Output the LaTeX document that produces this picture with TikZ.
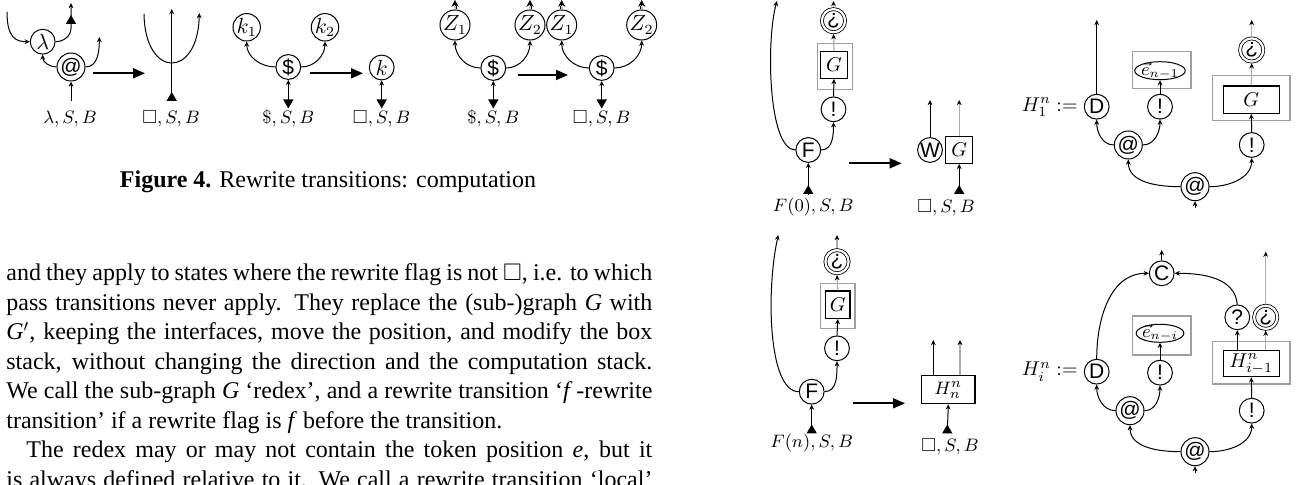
\documentclass[tikz,border=0pt]{standalone}
\usepackage{fontspec}
\usepackage{amssymb}
\usetikzlibrary{arrows.meta,shapes.geometric}
\newfontfamily\hv{Liberation Sans}
\newfontfamily\bodyfont{Liberation Serif}
\newcommand\tokup[2]{\fill (#1,#2) -- ++(-5.2,9) -- ++(10.4,0) -- cycle;}
\newcommand\tokdn[2]{\fill (#1,#2) -- ++(-5.2,-9) -- ++(10.4,0) -- cycle;}
\newcommand\jl[1]{\hbox to 323pt{\bodyfont\fontsize{12}{14}\selectfont\spaceskip=0.25em plus 0.4em minus 0.1em #1}}
\tikzset{
  cn/.style={circle,draw,line width=0.5pt,inner sep=0pt,minimum size=12.4pt,font=\fontsize{10.5}{11}\selectfont},
  dn/.style={circle,draw,double,double distance=1.1pt,line width=0.4pt,inner sep=0pt,minimum size=11.6pt,outer sep=0.9pt,font=\fontsize{10.5}{11}\selectfont},
  bx/.style={draw,line width=0.65pt,inner sep=0pt,font=\fontsize{10}{11}\selectfont},
  gbx/.style={draw=gray!75,line width=0.55pt,inner sep=0pt},
  el/.style={draw,ellipse,line width=0.5pt,inner xsep=-0.5pt,inner ysep=-1.5pt,minimum width=23.5pt,minimum height=9pt,font=\fontsize{9}{10}\selectfont},
  ar/.style={line width=0.5pt,-{Stealth[length=2.6pt,width=2.4pt]}},
  gar/.style={draw=gray!65,line width=0.6pt,-{Stealth[length=2.6pt,width=2.4pt,black]}},
  bar/.style={line width=0.5pt,-{Stealth[length=3.4pt,width=3.6pt]}},
  dbl/.style={double=gray!45,double distance=0.8pt,line width=0.35pt},
  bigar/.style={line width=0.8pt,-{Triangle[length=6pt,width=5pt]}},
  lab/.style={inner sep=0pt,font=\fontsize{9.5}{10}\selectfont},
  txt/.style={anchor=base west,inner sep=0pt}
}
\begin{document}
\begin{tikzpicture}[x=0.5pt,y=-0.5pt]
\useasboundingbox (0,0) rectangle (1297,485);

% ---------- diagram 1: lambda / @
\node[cn] (lam) at (42.7,41.7) {$\lambda$};
\node[cn] (ap1) at (71,67) {\hv @};
\coordinate (lamin) at (7,12);
\draw[ar] (lamin) .. controls (7,38) and (16,41.7) .. (lam.west);
\coordinate (lamcrn) at (71,28);
\coordinate (lamout) at (71,3);
\draw[ar] (lam.east) to[out=0,in=-90] (lamcrn) -- (lamout);
\tokup{71}{15}
\draw[ar] (ap1.west) to[out=180,in=-90] (lam.south);
\coordinate (ap1out) at (99.3,37);
\draw[ar] (ap1.east) to[out=0,in=-90] (ap1out);
\coordinate (ap1in) at (71,101);
\draw[ar] (ap1in) -- (ap1.south);
\node[lab] (l1) at (70,119) {$\lambda, S, B$};
\coordinate (b1s) at (93,73.3); \coordinate (b1e) at (145,73.3);
\draw[bigar] (b1s) -- (b1e);

% ---------- diagram 2
\coordinate (ul) at (144,14); \coordinate (ur) at (199.3,13);
\draw[ar] (ul) .. controls (145,79) and (198,79) .. (ur);
\coordinate (vb) at (171.7,100); \coordinate (vt) at (171.7,9);
\draw[ar] (vb) -- (vt);
\tokup{171.7}{92}
\node[lab] (l2) at (171,119) {$\square, S, B$};

% ---------- diagram 3
\node[cn] (k1) at (246.7,27.3) {$k_1$};
\node[cn] (k2) at (325,27.3) {$k_2$};
\node[cn] (dl1) at (288.3,67) {\hv \$};
\draw[ar] (dl1.west) to[out=180,in=-90] (k1.south);
\draw[ar] (dl1.east) to[out=0,in=-90] (k2.south);
\coordinate (dl1in) at (288.3,100);
\draw[ar] (dl1in) -- (dl1.south);
\tokdn{288.3}{108.5}
\node[lab] (l3) at (288.3,119) {$\$, S, B$};
\coordinate (b2s) at (310,73.3); \coordinate (b2e) at (363,73.3);
\draw[bigar] (b2s) -- (b2e);

% ---------- diagram 3b
\node[cn] (kk) at (381.7,67.5) {$k$};
\coordinate (kkin) at (381.7,100);
\draw[ar] (kkin) -- (kk.south);
\tokdn{381.7}{108.5}
\node[lab] (l4) at (381.7,119) {$\square, S, B$};

% ---------- diagram 4
\node[cn] (z1) at (455,25) {$Z_1$};
\node[cn] (z2) at (530,25) {$Z_2$};
\node[cn] (dl2) at (493.3,68) {\hv \$};
\draw[ar] (dl2.west) to[out=180,in=-90] (z1.south);
\draw[ar] (dl2.east) to[out=0,in=-90] (z2.south);
\coordinate (z1m) at (455,6); \coordinate (z1o) at (455,0);
\coordinate (z2m) at (530,6); \coordinate (z2o) at (530,0);
\draw[dbl] (z1.north) -- (z1m); \draw[bar] (z1m) -- (z1o);
\draw[dbl] (z2.north) -- (z2m); \draw[bar] (z2m) -- (z2o);
\coordinate (dl2in) at (493.3,100);
\draw[ar] (dl2in) -- (dl2.south);
\tokdn{493.3}{108.5}
\node[lab] (l5) at (493.3,119) {$\$, S, B$};
\coordinate (b3s) at (518,75); \coordinate (b3e) at (568,75);
\draw[bigar] (b3s) -- (b3e);

% ---------- diagram 5
\node[cn] (z3) at (561.7,25) {$Z_1$};
\node[cn] (z4) at (641.7,25) {$Z_2$};
\node[cn] (dl3) at (601.7,68) {\hv \$};
\draw[ar] (dl3.west) to[out=180,in=-90] (z3.south);
\draw[ar] (dl3.east) to[out=0,in=-90] (z4.south);
\coordinate (z3m) at (561.7,6); \coordinate (z3o) at (561.7,0);
\coordinate (z4m) at (641.7,6); \coordinate (z4o) at (641.7,0);
\draw[dbl] (z3.north) -- (z3m); \draw[bar] (z3m) -- (z3o);
\draw[dbl] (z4.north) -- (z4m); \draw[bar] (z4m) -- (z4o);
\coordinate (dl3in) at (601.7,100);
\draw[ar] (dl3in) -- (dl3.south);
\tokdn{601.7}{108.5}
\node[lab] (l6) at (601.7,119) {$\square, S, B$};

% ---------- caption and text
\node[anchor=base,inner sep=0pt] (cap) at (328,188) {\bodyfont\fontsize{12}{14}\selectfont\textbf{Figure 4.} Rewrite transitions: computation};
\node[txt] (t1) at (6,281) {\jl{and they apply to states where the rewrite flag is not $\square$, i.e. to which}};
\node[txt] (t2) at (6,310.5) {\jl{pass transitions never apply. They replace the (sub-)graph \textit{G} with}};
\node[txt] (t3) at (6,340) {\jl{\textit{G}$'$, keeping the interfaces, move the position, and modify the box}};
\node[txt] (t4) at (6,369.5) {\jl{stack, without changing the direction and the computation stack.}};
\node[txt] (t5) at (6,399) {\jl{We call the sub-graph \textit{G} ‘redex’, and a rewrite transition ‘\textit{f}\,-rewrite}};
\node[txt] (t6) at (6,428.5) {\jl{transition’ if a rewrite flag is \textit{f} before the transition.\hfil}};
\node[txt] (t7) at (6,458) {\jl{\hspace*{10pt}The redex may or may not contain the token position \textit{e}, but it}};
\node[txt] (t8) at (6,487.5) {\jl{is always defined relative to it. We call a rewrite transition ‘local’}};

% ---------- F(0) diagram
\node[cn] (F0) at (808.3,150) {\hv F};
\node[cn] (ex0) at (833.5,109.3) {\hv !};
\node[gbx,minimum width=17.5pt,minimum height=23pt] (G0o) at (835,66.3) {};
\node[bx,minimum width=13.3pt,minimum height=13.3pt] (G0) at (834,65) {$G$};
\node[dn] (q0) at (833.5,20.7) {\hv ¿};
\coordinate (F0top) at (777,1);
\draw[ar] (F0.west) .. controls (768,150) and (766,40) .. (F0top);
\draw[ar] (F0.east) to[out=0,in=-90] (ex0.south);
\draw[ar] (ex0.north) -- (G0.south);
\draw[gar] (G0.north) -- (q0.south);
\coordinate (q0top) at (833.5,1);
\draw[gar] (q0.north) -- (q0top);
\coordinate (F0in) at (808.3,195);
\draw[ar] (F0in) -- (F0.south);
\tokup{808.3}{185}
\node[lab] (l7) at (813.3,206.7) {$F(0), S, B$};
\coordinate (b4s) at (849,163.3); \coordinate (b4e) at (901.7,163.3);
\draw[bigar] (b4s) -- (b4e);

\node[cn] (W0) at (930,150) {\hv W};
\node[bx,minimum width=13.5pt,minimum height=13.3pt] (G1) at (959.2,150) {$G$};
\coordinate (W0o) at (930,100); \draw[ar] (W0.north) -- (W0o);
\coordinate (G1o) at (959.2,100); \draw[gar] (G1.north) -- (G1o);
\coordinate (G1in) at (959.2,193); \draw[ar] (G1in) -- (G1.south);
\tokup{959.2}{185}
\node[lab] (l8) at (946,207.5) {$\square, S, B$};

% ---------- H_1^n
\node[lab,anchor=east,font=\fontsize{10}{11}\selectfont] (H1lab) at (1078,106.7) {$H_1^n :=$};
\node[cn] (D1) at (1096.7,106.7) {\hv D};
\coordinate (D1o) at (1096.7,20); \draw[ar] (D1.north) -- (D1o);
\node[gbx,minimum width=29.2pt,minimum height=18.3pt] (E1o) at (1161.8,70) {};
\node[el] (E1) at (1160,70.7) {$\vec e_{n-1}$};
\node[cn] (ex1) at (1160,106.7) {\hv !};
\draw[ar] (ex1.north) -- (E1.south);
\node[cn] (ap2) at (1128.3,145) {\hv @};
\draw[ar] (ap2.west) to[out=180,in=-90] (D1.south);
\draw[ar] (ap2.east) to[out=0,in=-90] (ex1.south);
\node[cn] (ap3) at (1195,186.7) {\hv @};
\draw[ar] (ap3.west) to[out=180,in=-90] (ap2.south);
\node[cn] (ex2) at (1251.7,145) {\hv !};
\draw[ar] (ap3.east) to[out=0,in=-90] (ex2.south);
\node[gbx,minimum width=38.8pt,minimum height=22.8pt] (G2o) at (1251.2,97.9) {};
\node[bx,minimum width=28pt,minimum height=13.6pt] (G2) at (1251.3,99.7) {$G$};
\draw[ar] (ex2.north) -- (G2.south);
\node[dn] (q2) at (1251.7,50) {\hv ¿};
\draw[gar] (G2.north) -- (q2.south);
\coordinate (q2o) at (1251.7,20); \draw[gar] (q2.north) -- (q2o);
\coordinate (ap3in) at (1195,208.3); \draw[ar] (ap3in) -- (ap3.south);

% ---------- F(n) diagram
\node[cn] (F1) at (811.7,391.7) {\hv F};
\node[cn] (ex3) at (837,348.3) {\hv !};
\node[gbx,minimum width=17.2pt,minimum height=22.5pt] (G3o) at (837.8,305.8) {};
\node[bx,minimum width=12.2pt,minimum height=13.6pt] (G3) at (837.8,304.7) {$G$};
\node[dn] (q3) at (837,261.7) {\hv ¿};
\coordinate (F1top) at (778.3,235);
\draw[ar] (F1.west) .. controls (768,391.7) and (766,290) .. (F1top);
\draw[ar] (F1.east) to[out=0,in=-90] (ex3.south);
\draw[ar] (ex3.north) -- (G3.south);
\draw[gar] (G3.north) -- (q3.south);
\coordinate (q3o) at (837,235); \draw[gar] (q3.north) -- (q3o);
\coordinate (F1in) at (811.7,433.3); \draw[ar] (F1in) -- (F1.south);
\tokup{811.7}{424.5}
\node[lab] (l9) at (811.7,443) {$F(n), S, B$};
\coordinate (b5s) at (852.7,403.3); \coordinate (b5e) at (905,403.3);
\draw[bigar] (b5s) -- (b5e);

\node[bx,minimum width=26.6pt,minimum height=14pt,font=\fontsize{9.5}{10}\selectfont] (Hn) at (948.3,389.7) {$H_n^n$};
\coordinate (Hno1) at (933.3,340); \coordinate (Hno2) at (960,340);
\draw[ar] (Hn.north -| Hno1) -- (Hno1);
\draw[gar] (Hn.north -| Hno2) -- (Hno2);
\coordinate (Hnin) at (947.3,433.3); \draw[ar] (Hnin) -- (Hn.south);
\tokup{947.3}{424.5}
\node[lab] (l10) at (950,446.7) {$\square, S, B$};

% ---------- H_i^n
\node[lab,anchor=east,font=\fontsize{10}{11}\selectfont] (Hilab) at (1078,371.7) {$H_i^n :=$};
\node[cn] (D2) at (1096.7,371.7) {\hv D};
\node[cn] (C2) at (1161.7,273.3) {\hv C};
\draw[ar] (D2.north) to[out=90,in=180] (C2.west);
\coordinate (C2o) at (1161.7,250); \draw[ar] (C2.north) -- (C2o);
\node[cn] (qm) at (1237.3,317.3) {\hv ?};
\node[dn] (q4) at (1265.7,317.3) {\hv ¿};
\draw[ar] (qm.north) to[out=95,in=0] (C2.east);
\coordinate (q4o) at (1265.7,251.7); \draw[gar] (q4.north) -- (q4o);
\node[gbx,minimum width=29.2pt,minimum height=19.5pt] (E2o) at (1161.8,335.5) {};
\node[el] (E2) at (1160,333.3) {$\vec e_{n-i}$};
\node[cn] (ex4) at (1160,372.7) {\hv !};
\draw[ar] (ex4.north) -- (E2.south);
\node[cn] (ap4) at (1130,410.7) {\hv @};
\draw[ar] (ap4.west) to[out=180,in=-90] (D2.south);
\draw[ar] (ap4.east) to[out=0,in=-90] (ex4.south);
\node[cn] (ap5) at (1195,451.7) {\hv @};
\draw[ar] (ap5.west) to[out=180,in=-90] (ap4.south);
\node[cn] (ex5) at (1251.7,410.7) {\hv !};
\draw[ar] (ap5.east) to[out=0,in=-90] (ex5.south);
\node[gbx,minimum width=38.8pt,minimum height=21.2pt] (H2o) at (1251.2,362.8) {};
\node[bx,minimum width=28pt,minimum height=13pt] (H2) at (1251.3,363.7) {$H^n_{i-1}$};
\draw[ar] (ex5.north) -- (H2.south);
\draw[ar] (H2.north -| qm) -- (qm.south);
\draw[gar] (H2.north -| q4) -- (q4.south);
\coordinate (ap5in) at (1195,473.3); \draw[ar] (ap5in) -- (ap5.south);
\end{tikzpicture}
\end{document}
